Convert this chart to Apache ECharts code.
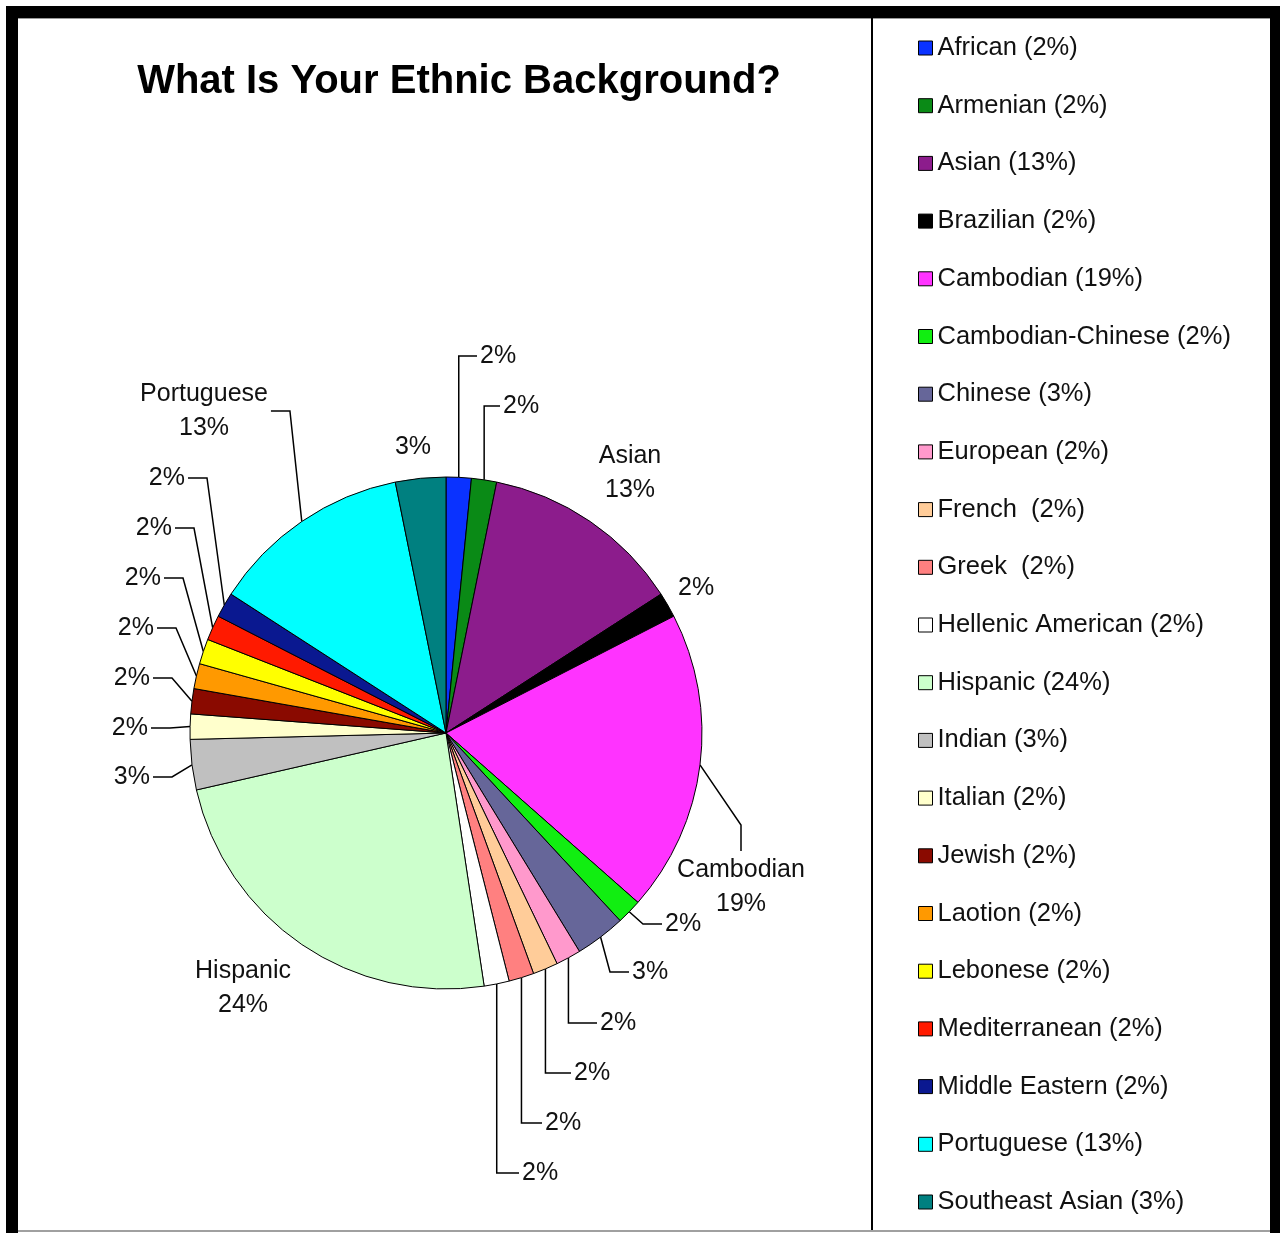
<!DOCTYPE html>
<html>
<head>
<meta charset="utf-8">
<script src="https://cdn.jsdelivr.net/npm/echarts@6/dist/echarts.min.js"></script>
<style>
html,body{margin:0;padding:0;background:#fff;}
#chart{position:absolute;left:0;top:0;width:1280px;height:1233px;}
.bar{position:absolute;background:#000;pointer-events:none;}
</style>
</head>
<body>
<div id="chart"></div>
<div class="bar" style="left:6px;top:6px;width:1274px;height:12px"></div>
<div class="bar" style="left:6px;top:6px;width:12px;height:1227px"></div>
<div class="bar" style="left:1270px;top:6px;width:10px;height:1227px"></div>
<div class="bar" style="left:18px;top:18px;width:1252px;height:1px;background:#9a9a9a"></div>
<div class="bar" style="left:18px;top:1230px;width:1252px;height:2px;background:#a0a0a0"></div>
<div class="bar" style="left:871px;top:18px;width:2px;height:1212px"></div>
<script>
// ---- data ----
const categories = [
  'African', 'Armenian', 'Asian', 'Brazilian', 'Cambodian', 'Cambodian-Chinese',
  'Chinese', 'European', 'French ', 'Greek ', 'Hellenic American', 'Hispanic',
  'Indian', 'Italian', 'Jewish', 'Laotion', 'Lebonese', 'Mediterranean',
  'Middle Eastern', 'Portuguese', 'Southeast Asian'
];
const counts = [1, 1, 8, 1, 12, 1, 2, 1, 1, 1, 1, 15, 2, 1, 1, 1, 1, 1, 1, 8, 2];
const titleText = 'What Is Your Ethnic Background?';

// ---- styles ----
const colors = [
  '#0a32ff', '#0a8a16', '#8c1c8c', '#000000', '#ff33ff', '#11ee11',
  '#666699', '#ff99cc', '#ffcc99', '#ff8080', '#ffffff', '#ccffcc',
  '#c0c0c0', '#ffffcc', '#8a0a00', '#ff9900', '#ffff00', '#ff1a00',
  '#0a1890', '#00ffff', '#008080'
];
// label anchor [x, y, align, leader-line kind]
const labelSpots = [
  [480, 356, 'left', 'v'],
  [503, 406, 'left', 'v'],
  [630, 473, 'center', 'none'],
  [678, 588, 'left', 'none'],
  [741, 887, 'center', 'top'],
  [665, 924, 'left', 'd'],
  [632, 972, 'left', 'd'],
  [600, 1023, 'left', 'v'],
  [574, 1073, 'left', 'v'],
  [545, 1123, 'left', 'v'],
  [522, 1173, 'left', 'v'],
  [243, 988, 'center', 'none'],
  [150, 777, 'right', 'd'],
  [148, 728, 'right', 'd'],
  [150, 678, 'right', 'd'],
  [154, 628, 'right', 'd'],
  [161, 578, 'right', 'd'],
  [172, 528, 'right', 'd'],
  [185, 478, 'right', 'd'],
  [204, 411, 'center', 'd'],
  [413, 447, 'center', 'none']
];

const total = counts.reduce((a, b) => a + b, 0);
const pct = v => Math.round(v / total * 100);

const chart = echarts.init(document.getElementById('chart'), null, {renderer: 'canvas'});

const seriesData = categories.map((name, i) => ({
  name: name,
  value: counts[i],
  itemStyle: {color: colors[i]},
  labelLine: {show: labelSpots[i][3] !== 'none'}
}));

const option = {
  animation: false,
  backgroundColor: 'transparent',
  title: {
    text: titleText,
    left: 454,
    top: 57,
    textAlign: 'center',
    textStyle: {fontFamily: 'Arial', fontWeight: 'bold', fontSize: 40, color: '#000'}
  },
  legend: {
    orient: 'vertical',
    left: 913,
    top: 30,
    icon: 'rect',
    itemWidth: 14,
    itemHeight: 14,
    itemGap: 31.7,
    selectedMode: false,
    itemStyle: {borderColor: '#000', borderWidth: 1},
    textStyle: {fontFamily: 'Arial', fontSize: 25.5, lineHeight: 26, color: '#111'},
    formatter: function (name) {
      const i = categories.indexOf(name);
      return name + ' (' + pct(counts[i]) + '%)';
    },
    data: categories
  },
  series: [{
    type: 'pie',
    center: [446, 733],
    radius: 256,
    startAngle: 90,
    clockwise: true,
    avoidLabelOverlap: false,
    emphasis: {disabled: true},
    itemStyle: {borderColor: '#000', borderWidth: 1},
    label: {
      show: true,
      position: 'outside',
      fontFamily: 'Arial',
      fontSize: 25,
      lineHeight: 34,
      color: '#111',
      formatter: function (p) {
        const v = pct(p.value);
        return v >= 10 ? p.name + '\n' + v + '%' : v + '%';
      }
    },
    labelLine: {show: true, length: 20, length2: 10, lineStyle: {color: '#000', width: 1.5}},
    labelLayout: function (p) {
      const s = labelSpots[p.dataIndex];
      const x = s[0], y = s[1], align = s[2], kind = s[3];
      const out = {x: x, y: y, align: align, verticalAlign: 'middle'};
      const pts = p.labelLinePoints;
      if (kind !== 'none' && pts && pts.length) {
        const st = pts[0];
        const w = p.labelRect.width, h = p.labelRect.height;
        let end, elbow;
        if (kind === 'top') {
          end = [x, y - h / 2 - 2];
          elbow = [x, end[1] - 26];
        } else {
          let ex;
          if (align === 'left') ex = x - 3;
          else if (align === 'right') ex = x + 3;
          else ex = st[0] > x ? x + w / 2 + 3 : x - w / 2 - 3;
          end = [ex, y];
          if (kind === 'v') elbow = [st[0], y];
          else elbow = [ex + (st[0] > ex ? 19 : -19), y];
        }
        out.labelLinePoints = [[st[0], st[1]], elbow, end];
      }
      return out;
    },
    data: seriesData
  }]
};
chart.setOption(option);
</script>
</body>
</html>
